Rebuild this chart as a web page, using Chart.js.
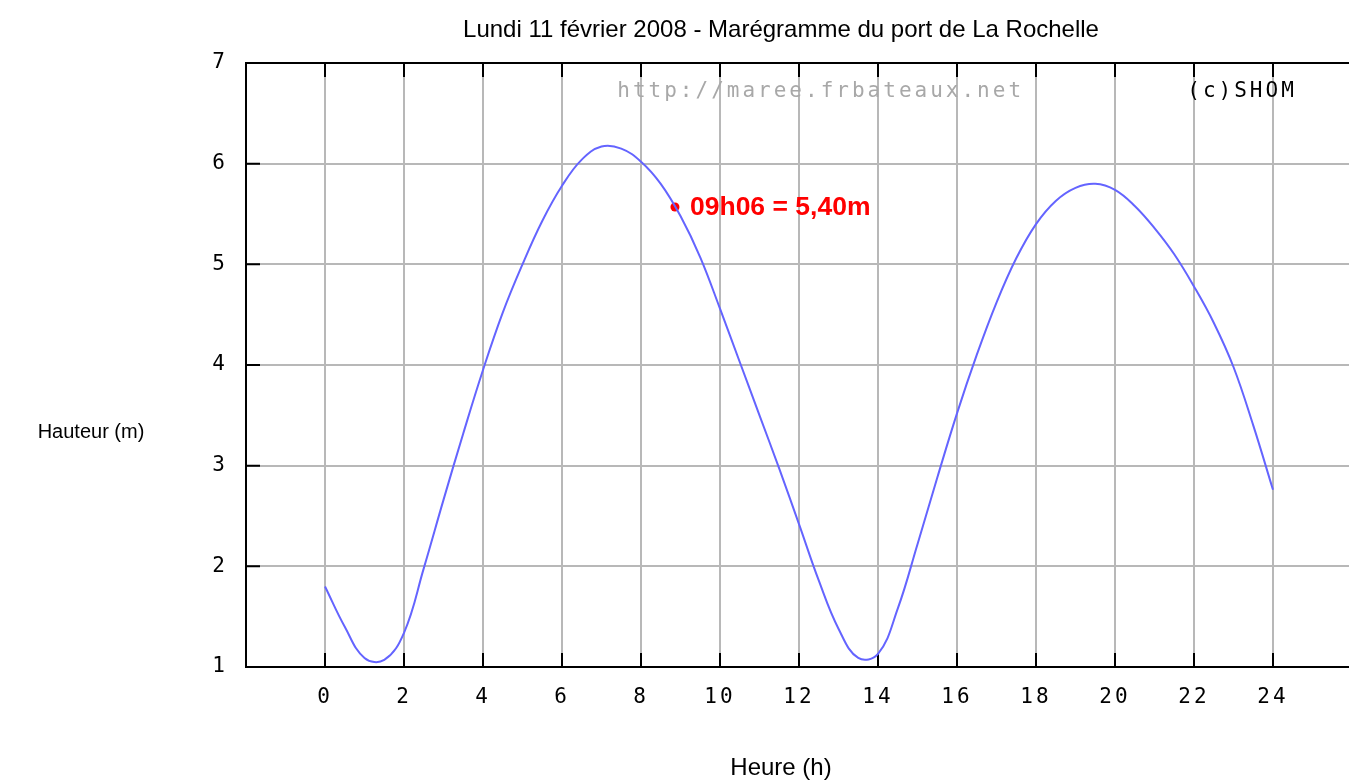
<!DOCTYPE html>
<html lang="fr">
<head>
<meta charset="utf-8">
<title>Marégramme La Rochelle</title>
<script src="https://cdn.jsdelivr.net/npm/chart.js@4.4.1/dist/chart.umd.min.js"></script>
<style>
  body { margin: 0; overflow: hidden; background: #fff; width: 1349px; height: 781px; position: relative; }
  #wrap { position: absolute; left: 0; top: 0; width: 1370px; height: 781px; }
  .lbl { position: absolute; font-family: 'Liberation Sans', Arial, sans-serif; font-size: 23px; color: #000;
         transform: translate(-50%, -50%); white-space: nowrap; }
</style>
</head>
<body>
<div id="wrap"><canvas id="tide"></canvas></div>
<div class="lbl" style="left:781px; top:29px; font-size:24px;">Lundi 11 février 2008 - Marégramme du port de La Rochelle</div>
<div class="lbl" style="left:91px; top:431px; font-size:20px;">Hauteur (m)</div>
<div class="lbl" style="left:781px; top:767px; font-size:24px;">Heure (h)</div>
<script>
const hours = [0, 0.5, 1, 1.5, 2, 2.5, 3, 3.5, 4, 4.5, 5, 5.5, 6, 6.5, 7, 7.5, 8, 8.5, 9, 9.5, 10, 10.5, 11, 11.5, 12,
  12.5, 13, 13.5, 14, 14.5, 15, 15.5, 16, 16.5, 17, 17.5, 18, 18.5, 19, 19.5, 20, 20.5, 21, 21.5, 22, 22.5, 23, 23.5, 24];
const heights = [1.80, 1.40, 1.09, 1.07, 1.34, 1.98, 2.66, 3.32, 3.95, 4.52, 5.00, 5.43, 5.78, 6.04, 6.17, 6.15, 6.02,
  5.80, 5.48, 5.07, 4.56, 4.03, 3.50, 2.97, 2.42, 1.86, 1.38, 1.09, 1.13, 1.58, 2.22, 2.88, 3.52, 4.10, 4.62, 5.06, 5.40,
  5.63, 5.76, 5.80, 5.74, 5.58, 5.36, 5.10, 4.78, 4.42, 3.98, 3.40, 2.76];

const markerHour = 8.86;
const markerHeight = 5.57;
const markerLabel = '09h06 = 5,40m';

const watermark = { text: 'http://maree.frbateaux.net', x: 7.4, y: 6.72 };
const copyright = { text: '(c)SHOM', x: 21.83, y: 6.72 };

const monoFont = "'DejaVu Sans Mono', monospace";

const frame = {
  id: 'frame',
  beforeDraw(chart) {
    chart.ctx.letterSpacing = '3px';
  },
  beforeDatasetsDraw(chart) {
    const { ctx, chartArea: a, scales: { x, y } } = chart;
    ctx.save();
    ctx.strokeStyle = '#000';
    ctx.lineWidth = 2;
    ctx.beginPath();
    ctx.moveTo(a.left, a.top);
    ctx.lineTo(a.right, a.top);
    x.ticks.forEach(t => {
      const px = x.getPixelForValue(t.value);
      ctx.moveTo(px, a.bottom); ctx.lineTo(px, a.bottom - 14);
      ctx.moveTo(px, a.top); ctx.lineTo(px, a.top + 14);
    });
    y.ticks.forEach(t => {
      const py = y.getPixelForValue(t.value);
      ctx.moveTo(a.left, py); ctx.lineTo(a.left + 14, py);
    });
    ctx.stroke();

    ctx.font = '21px ' + monoFont;
    ctx.letterSpacing = '3px';
    ctx.textBaseline = 'middle';
    ctx.textAlign = 'left';
    ctx.fillStyle = '#a8a8a8';
    ctx.fillText(watermark.text, x.getPixelForValue(watermark.x), y.getPixelForValue(watermark.y));
    ctx.fillStyle = '#000';
    ctx.fillText(copyright.text, x.getPixelForValue(copyright.x), y.getPixelForValue(copyright.y));
    ctx.restore();
  },
  afterDatasetsDraw(chart) {
    const { ctx, scales: { x, y } } = chart;
    ctx.save();
    ctx.letterSpacing = '0px';
    ctx.font = "bold 26.5px 'Liberation Sans', Arial, sans-serif";
    ctx.fillStyle = '#ff0000';
    ctx.textBaseline = 'middle';
    ctx.textAlign = 'left';
    ctx.fillText(markerLabel, x.getPixelForValue(markerHour) + 15, y.getPixelForValue(markerHeight) + 1);
    ctx.restore();
  },
};

new Chart(document.getElementById('tide'), {
  type: 'line',
  data: {
    datasets: [
      {
        data: hours.map((h, i) => ({ x: h, y: heights[i] })),
        borderColor: '#6464ff',
        borderWidth: 2,
        pointRadius: 0,
        tension: 0.4,
        fill: false,
      },
      {
        data: [{ x: markerHour, y: markerHeight }],
        showLine: false,
        pointRadius: 4.5,
        pointBackgroundColor: '#ff0000',
        pointBorderWidth: 0,
      },
    ],
  },
  options: {
    responsive: true,
    maintainAspectRatio: false,
    animation: false,
    layout: { padding: { top: 63, right: 8, left: 0, bottom: 0 } },
    plugins: { legend: { display: false }, tooltip: { enabled: false }, title: { display: false } },
    scales: {
      x: {
        type: 'linear',
        min: -2,
        max: 26,
        afterFit: s => { s.height = 114; },
        grid: { color: '#b8b8b8', lineWidth: 2, drawTicks: false },
        border: { color: '#000', width: 2 },
        ticks: {
          stepSize: 2,
          autoSkip: false,
          maxRotation: 0,
          padding: 18,
          color: '#000',
          font: { family: monoFont, size: 21 },
          callback: v => (v < 0 || v > 24 ? '' : String(v)),
        },
      },
      y: {
        min: 1,
        max: 7,
        afterFit: s => { s.width = 246; },
        grid: { color: '#b8b8b8', lineWidth: 2, drawTicks: false },
        border: { color: '#000', width: 2 },
        ticks: {
          stepSize: 1,
          padding: 18,
          color: '#000',
          font: { family: monoFont, size: 21 },
        },
      },
    },
  },
  plugins: [frame],
});
</script>
</body>
</html>
